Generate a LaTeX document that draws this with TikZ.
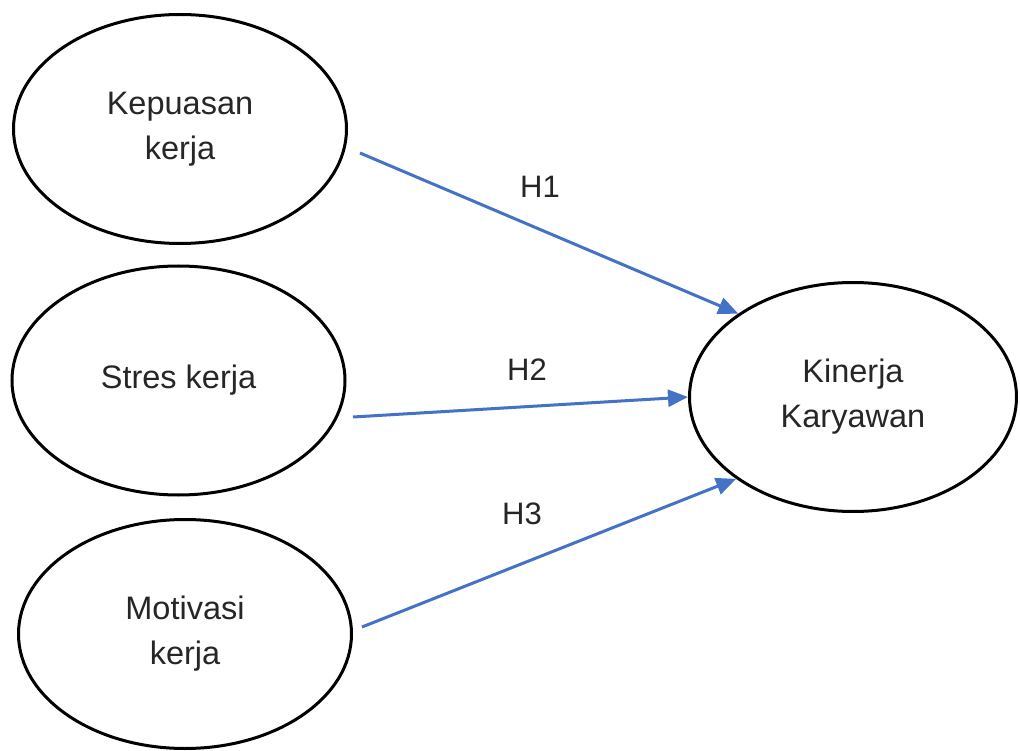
\documentclass[tikz,border=0pt]{standalone}
\usepackage{fontspec}
\setmainfont{Liberation Sans}
\usetikzlibrary{arrows.meta,shapes.geometric}
\definecolor{arrblue}{RGB}{68,114,196}
\tikzset{
  ell/.style={ellipse, draw=black, line width=3pt, minimum width=333pt, minimum height=229pt, inner sep=0pt, align=center, text=black!85, font=\fontsize{32.5}{45}\selectfont},
  hlab/.style={text=black!85, font=\fontsize{31}{36}\selectfont, inner sep=0pt},
  arr/.style={draw=arrblue, line width=3pt, -{Triangle[length=20pt,width=17pt]}}
}
\begin{document}
\begin{tikzpicture}[x=1pt,y=-1pt]
\useasboundingbox (0,0) rectangle (1020,751);
\node[ell] (k) at (180,129) {Kepuasan\\kerja};
\node[ell] (s) at (178.5,380.5) {Stres kerja};
\node[ell] (m) at (185,634) {Motivasi\\kerja};
\node[ell, minimum width=327pt] (kin) at (853,397) {Kinerja\\Karyawan};
\coordinate (s1) at (360,153);
\coordinate (s2) at (353,417);
\coordinate (s3) at (362,627);
\draw[arr] (s1) -- (kin.144.5);
\draw[arr] (s2) -- (kin.180.5);
\draw[arr] (s3) -- (kin.215.6);
\node[hlab] (h1) at (540,187) {H1};
\node[hlab] (h2) at (527,370) {H2};
\node[hlab] (h3) at (522,514) {H3};
\end{tikzpicture}
\end{document}
